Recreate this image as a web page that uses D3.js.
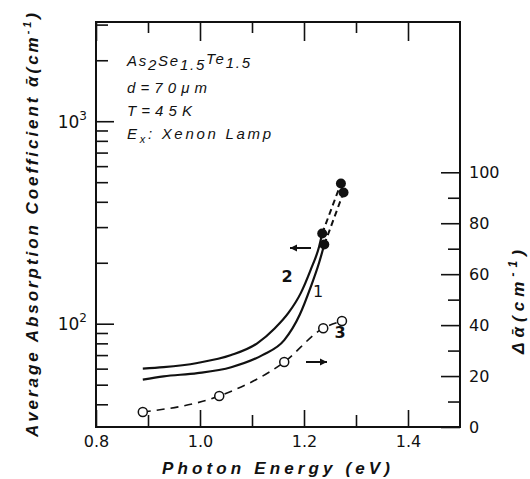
<!DOCTYPE html>
<html>
<head>
<meta charset="utf-8">
<script src="https://cdn.jsdelivr.net/npm/d3@7"></script>
<style>
  body { margin: 0; background: #fff; }
  svg { display: block; }
  .tick text { font-family: 'DejaVu Sans', sans-serif; font-size: 16px; fill: #111; }
  .tick line { stroke: #111; stroke-width: 1.6; }
  .title { font-family: 'Liberation Sans', sans-serif; font-weight: bold; font-style: italic; fill: #111; }
  .note { font-family: 'Liberation Sans', sans-serif; font-style: italic; font-size: 15px; fill: #111; }
</style>
</head>
<body>
<div id="chart"></div>
<script>
// curve 2 (upper solid), left axis
const energy2 = [0.89, 0.93, 0.995, 1.06, 1.11, 1.144, 1.17, 1.194, 1.213, 1.229, 1.235];
const alpha2 = [60, 61, 64, 70, 80, 95, 113, 142, 185, 240, 279];
// curve 1 (lower solid), left axis
const energy1 = [0.89, 0.93, 0.995, 1.06, 1.12, 1.162, 1.192, 1.213, 1.229, 1.239];
const alpha1 = [53, 55, 57, 61, 70, 83, 111, 152, 200, 246];
// filled points
const dotEnergy2 = [1.235, 1.271];
const dotAlpha2 = [279, 493];
const dotEnergy1 = [1.239, 1.276];
const dotAlpha1 = [246, 445];
// curve 3 (open circles), right axis
const energy3 = [0.89, 1.037, 1.162, 1.237, 1.273];
const delta3 = [5.9, 12.2, 25.5, 38.8, 41.6];

const xMajor = [0.8, 1.0, 1.2, 1.4];
const xMinor = [0.9, 1.1, 1.3];
const yLeftMajor = [100, 1000];
const yLeftMinor = [40, 50, 60, 70, 80, 90, 200, 300, 400, 500, 600, 700, 800, 900, 2000, 3000];
const yRightMajor = [0, 20, 40, 60, 80, 100];
const yRightMinor = [10, 30, 50, 70, 90];

const w = 530;
const h = 479;
const mLeft = 96, mRight = 460, mTop = 22, mBottom = 427;

const zip = (a, b) => a.map((v, i) => [v, b[i]]);

window.onload = () => {
  const svg = d3.select('#chart').append('svg')
    .attr('width', w).attr('height', h);

  const x = d3.scaleLinear().domain([0.8, 1.5]).range([mLeft, mRight]);
  const yL = d3.scaleLog().domain([30.9, 3090]).range([mBottom, mTop]);
  const yR = d3.scaleLinear().domain([0, 159]).range([mBottom, mTop]);

  drawAxes(svg, x, yL, yR);
  drawCurves(svg, x, yL, yR);
  drawText(svg);
};  // End window.onload()


function drawAxes(svg, x, yL, yR) {
  const put = (axis, tx, ty) => {
    const g = svg.append('g').attr('transform', `translate(${tx},${ty})`).call(axis);
    g.select('.domain').remove();
    return g;
  };

  put(d3.axisBottom(x).tickValues(xMajor).tickSize(-17).tickPadding(9).tickFormat(d3.format('.1f')), 0, mBottom);
  put(d3.axisBottom(x).tickValues(xMinor).tickSize(-12).tickFormat(''), 0, mBottom);
  put(d3.axisTop(x).tickValues(xMajor).tickSize(-19).tickFormat(''), 0, mTop);
  put(d3.axisTop(x).tickValues(xMinor).tickSize(-11).tickFormat(''), 0, mTop);

  const lm = put(d3.axisLeft(yL).tickValues(yLeftMajor).tickSize(-18).tickFormat(''), mLeft, 0);
  put(d3.axisLeft(yL).tickValues(yLeftMinor).tickSize(-12).tickFormat(''), mLeft, 0);
  lm.selectAll('.tick').append('text')
    .attr('x', -9).attr('dy', '0.35em').attr('text-anchor', 'end')
    .style('font-size', '17px')
    .text('10')
    .append('tspan').attr('dy', -8).style('font-size', '12px')
    .text(d => Math.round(Math.log10(d)));

  put(d3.axisRight(yR).tickValues(yRightMajor).tickSize(-19).tickPadding(9), mRight, 0);
  put(d3.axisRight(yR).tickValues(yRightMinor).tickSize(-12).tickFormat(''), mRight, 0);

  svg.append('rect')
    .attr('x', mLeft).attr('y', mTop)
    .attr('width', mRight - mLeft).attr('height', mBottom - mTop)
    .attr('fill', 'none').attr('stroke', '#111').attr('stroke-width', 2);
}  // End drawAxes()


function drawCurves(svg, x, yL, yR) {
  const lineL = d3.line().x(d => x(d[0])).y(d => yL(d[1])).curve(d3.curveMonotoneX);
  const lineR = d3.line().x(d => x(d[0])).y(d => yR(d[1])).curve(d3.curveMonotoneX);

  [zip(energy2, alpha2), zip(energy1, alpha1)].forEach(pts => {
    svg.append('path').attr('d', lineL(pts))
      .attr('fill', 'none').attr('stroke', '#111').attr('stroke-width', 2.2);
  });

  [zip(dotEnergy2, dotAlpha2), zip(dotEnergy1, dotAlpha1)].forEach(pts => {
    svg.append('path').attr('d', d3.line().x(d => x(d[0])).y(d => yL(d[1]))(pts))
      .attr('fill', 'none').attr('stroke', '#111').attr('stroke-width', 2)
      .attr('stroke-dasharray', '6,4');
    svg.selectAll(null).data(pts).enter().append('circle')
      .attr('cx', d => x(d[0])).attr('cy', d => yL(d[1])).attr('r', 5)
      .attr('fill', '#111');
  });

  const pts3 = zip(energy3, delta3);
  svg.append('path').attr('d', lineR(pts3))
    .attr('fill', 'none').attr('stroke', '#111').attr('stroke-width', 1.6)
    .attr('stroke-dasharray', '8,6');
  svg.selectAll(null).data(pts3).enter().append('circle')
    .attr('cx', d => x(d[0])).attr('cy', d => yR(d[1])).attr('r', 4.5)
    .attr('fill', '#fff').attr('stroke', '#111').attr('stroke-width', 1.5);

  // arrows pointing to the axis of each curve
  const arrow = (x1, x2, y) => {
    const dir = Math.sign(x2 - x1);
    svg.append('line').attr('x1', x1).attr('x2', x2).attr('y1', y).attr('y2', y)
      .attr('stroke', '#111').attr('stroke-width', 2);
    svg.append('path')
      .attr('d', `M${x2},${y} L${x2 - dir * 7},${y - 3.5} L${x2 - dir * 7},${y + 3.5} Z`)
      .attr('fill', '#111');
  };
  arrow(311, 290, 248);
  arrow(306, 327, 362);

  const lbl = (t, px, py, wt) => svg.append('text').attr('x', px).attr('y', py)
    .attr('text-anchor', 'middle').attr('fill', '#111')
    .style('font-family', 'DejaVu Sans, sans-serif').style('font-size', '16px')
    .style('font-weight', wt).text(t);
  lbl('2', 287, 282, 'bold');
  lbl('1', 318, 297, 'normal');
  lbl('3', 340, 338, 'bold');
}  // End drawCurves()


function drawText(svg) {
  svg.append('text').attr('class', 'title')
    .attr('x', 276).attr('y', 474).attr('text-anchor', 'middle')
    .style('font-size', '17px')
    .attr('textLength', 228).attr('lengthAdjust', 'spacing')
    .text('Photon Energy (eV)');

  const lt = svg.append('text').attr('class', 'title')
    .attr('transform', 'translate(38,225) rotate(-90)')
    .attr('text-anchor', 'middle').style('font-size', '17px')
    .attr('textLength', 424).attr('lengthAdjust', 'spacing');
  lt.append('tspan').text('Average Absorption Coefficient ᾱ(cm');
  lt.append('tspan').attr('dy', -7).style('font-size', '11px').text('-1');
  lt.append('tspan').attr('dy', 7).text(')');

  const rt = svg.append('text').attr('class', 'title')
    .attr('transform', 'translate(524,302) rotate(-90)')
    .attr('text-anchor', 'middle').style('font-size', '17px')
    .attr('textLength', 104).attr('lengthAdjust', 'spacing');
  rt.append('tspan').text('Δᾱ(cm');
  rt.append('tspan').attr('dy', -7).style('font-size', '12px').text('-1');
  rt.append('tspan').attr('dy', 7).text(')');

  const n1 = svg.append('text').attr('class', 'note').attr('x', 127).attr('y', 66)
    .attr('textLength', 123).attr('lengthAdjust', 'spacing');
  n1.append('tspan').text('As');
  n1.append('tspan').attr('dy', 4).text('2');
  n1.append('tspan').attr('dy', -4).text('Se');
  n1.append('tspan').attr('dy', 4).text('1.5');
  n1.append('tspan').attr('dy', -6).text('Te');
  n1.append('tspan').attr('dy', 4).text('1.5');

  svg.append('text').attr('class', 'note').attr('x', 127).attr('y', 93)
    .attr('textLength', 80).attr('lengthAdjust', 'spacing').text('d=70μm');
  svg.append('text').attr('class', 'note').attr('x', 127).attr('y', 116)
    .attr('textLength', 65).attr('lengthAdjust', 'spacing').text('T=45K');
  const n4 = svg.append('text').attr('class', 'note').attr('x', 127).attr('y', 139)
    .attr('textLength', 144).attr('lengthAdjust', 'spacing');
  n4.append('tspan').text('E');
  n4.append('tspan').attr('dy', 4).style('font-size', '11px').text('x');
  n4.append('tspan').attr('dy', -4).text(': Xenon Lamp');
}  // End drawText()
</script>
</body>
</html>
